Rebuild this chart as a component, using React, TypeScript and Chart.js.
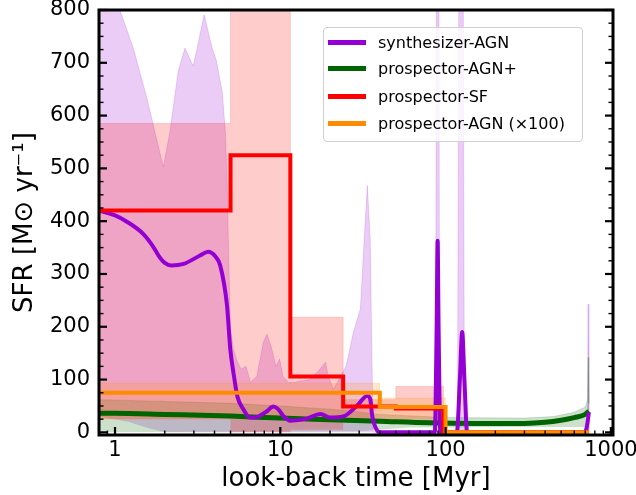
import React, { useEffect, useRef } from "react";
import { Chart, registerables } from "chart.js";

Chart.register(...registerables);

const FONT = "'DejaVu Sans', sans-serif";

// axes
const X_MIN = 0.8;
const X_MAX = 1030;
const Y_MIN = -5;
const Y_MAX = 800;
const X_TICKS = [1, 10, 100, 1000];
const Y_TICKS = [0, 100, 200, 300, 400, 500, 600, 700, 800];
const Y_MINOR_STEP = 25;
const X_TITLE = "look-back time [Myr]";
const Y_TITLE = "SFR [M\u2299 yr\u207B\u00B9]";

// series names
const SERIES_NAMES = ["synthesizer-AGN", "prospector-AGN+", "prospector-SF", "prospector-AGN (\u00D7100)"];
const COLORS = ["#9400D3", "#006400", "#FF0000", "#FF8C00"];
const BAND_COLORS = ["rgba(148,0,211,0.2)", "rgba(0,100,0,0.2)", "rgba(255,0,0,0.2)", "rgba(255,140,0,0.2)"];

// synthesizer-AGN median
const synthT = [0.8, 1.0, 1.18, 1.48, 1.7, 1.85, 2.0, 2.2, 2.6, 3.27, 3.66, 4.05, 4.33, 4.76, 4.98, 5.2, 5.5, 5.97, 6.57, 7.36, 8.3, 9.07, 9.7, 10.5, 11.5, 14.5, 17.5, 20, 24, 29, 33.6, 35, 36, 38.6, 40, 86, 88.3, 89.5, 90.7, 93, 117, 122, 126, 130, 135, 690, 715, 736];
const synthV = [420, 411, 399, 376, 352, 333, 321, 316, 319, 335, 342, 333, 316, 240, 158, 114, 68, 44, 28, 30, 40, 49, 44, 30, 22, 26, 35, 28, 30, 50, 69, 63, 31, 3, 0, 0, 200, 363, 200, 0, 0, 100, 190, 100, 0, 0, 10, 38];
// synthesizer-AGN band
const synthUpT = [0.8, 1.07, 1.29, 1.56, 1.8, 1.96, 2.15, 2.41, 2.65, 2.97, 3.14, 3.46, 3.87, 4.1, 4.45, 4.65, 4.76, 4.9, 5.0, 5.2, 5.5, 5.8, 6.2, 6.6, 7.2, 7.9, 8.3, 8.8, 9.4, 9.9, 10.4, 11.2, 12.2, 15, 17, 18.8, 19.5, 21, 25, 27.7, 30.5, 32.2, 33.6, 35, 35.8, 36.5, 87, 88.2, 90.8, 92, 118, 121, 127, 130, 700, 722, 728, 736];
const synthUpV = [950, 800, 728, 633, 551, 503, 570, 684, 728, 694, 728, 791, 728, 705, 646, 570, 481, 300, 196, 158, 133, 120, 125, 95, 106, 171, 186, 163, 125, 139, 106, 95, 95, 100, 116, 133, 106, 82, 125, 190, 234, 367, 468, 367, 150, 0, 0, 1200, 1200, 0, 0, 1200, 1200, 0, 0, 10, 243, 0];
const synthLoT = [0.8, 1.2, 1.6, 2.0, 736];
const synthLoV = [30, 20, 8, 0, 0];

// prospector-AGN+ median and band
const agnPlusT = [0.8, 1, 2, 5, 10, 20, 40, 80, 150, 300, 400, 500, 600, 700, 736];
const agnPlusV = [36, 36, 34, 31, 27, 24, 21, 18, 17, 17, 19, 23, 28, 34, 40];
const agnPlusUpT = [0.8, 5, 10, 24, 40, 100, 300, 450, 600, 700, 720, 728, 736];
const agnPlusUpV = [62, 55, 50, 42, 34, 28, 27, 30, 38, 48, 60, 142, 55];
const agnPlusLoT = [0.8, 30, 60, 700, 736];
const agnPlusLoV = [0, 2, 9, 10, 12];

// prospector-SF (bins)
const sfEdges = [0.8, 5, 11.5, 24, 50, 97, 736];
const sfV = [420, 525, 106, 49, 45, 0];
const sfUp = [585, 1000, 218, 62, 87, 0];
const sfLo = [25, 0, 5, 20, 20, 0];

// prospector-AGN x100 (bins)
const agnEdges = [0.8, 40, 100, 736];
const agnV = [75, 48, 0];
const agnUp = [93, 65, 0];
const agnLo = [25, 25, 0];

function pts(xs: number[], ys: number[]) {
  return xs.map((x, i) => ({ x, y: ys[i] }));
}
function stepPts(edges: number[], vals: number[]) {
  const p = vals.map((v, i) => ({ x: edges[i], y: v }));
  p.push({ x: edges[edges.length - 1], y: vals[vals.length - 1] });
  return p;
}

const framePlugin = {
  id: "frameTicks",
  afterDraw(chart: any) {
    const { ctx, chartArea: a } = chart;
    const xs = chart.scales.x;
    const ys = chart.scales.y;
    ctx.save();
    ctx.strokeStyle = "#000";
    ctx.lineCap = "butt";
    const seg = (x1: number, y1: number, x2: number, y2: number) => {
      ctx.beginPath();
      ctx.moveTo(x1, y1);
      ctx.lineTo(x2, y2);
      ctx.stroke();
    };
    for (let v = 0; v <= Y_MAX; v += Y_MINOR_STEP) {
      const py = ys.getPixelForValue(v);
      const major = Y_TICKS.includes(v);
      const len = major ? 8 : 4.5;
      ctx.lineWidth = major ? 2.2 : 1.4;
      seg(a.left, py, a.left + len, py);
      seg(a.right, py, a.right - len, py);
    }
    for (let e = -1; e <= 3; e++) {
      for (let m = 1; m <= 9; m++) {
        const v = m * Math.pow(10, e);
        if (v <= X_MIN || v >= X_MAX) continue;
        const px = xs.getPixelForValue(v);
        const major = m === 1;
        const len = major ? 8 : 4.5;
        ctx.lineWidth = major ? 2.2 : 1.4;
        seg(px, a.bottom, px, a.bottom - len);
      }
    }
    ctx.lineWidth = 3;
    ctx.strokeRect(a.left, a.top, a.right - a.left, a.bottom - a.top);
    ctx.restore();
  },
};

const zeroPad = (s: any) => {
  s.paddingTop = 0;
  s.paddingBottom = 0;
  s.paddingLeft = 0;
  s.paddingRight = 0;
};

export default function App() {
  const ref = useRef<HTMLCanvasElement>(null);
  useEffect(() => {
    const canvas = ref.current!;
    const datasets: any[] = [];
    const add = (d: any) => {
      datasets.push(d);
      return datasets.length - 1;
    };
    const band = (lower: any[], upper: any[], color: string, order: number, stepped: boolean) => {
      const lo = add({
        label: "",
        data: lower,
        borderWidth: 0,
        borderColor: "rgba(0,0,0,0)",
        pointRadius: 0,
        fill: false,
        stepped,
        tension: 0,
        order: order + 1,
      });
      add({
        label: "",
        data: upper,
        borderWidth: 0.8,
        borderColor: color,
        backgroundColor: color,
        pointRadius: 0,
        stepped,
        tension: 0,
        fill: { target: lo, above: color, below: color },
        order,
      });
    };
    band(pts(synthLoT, synthLoV), pts(synthUpT, synthUpV), BAND_COLORS[0], 20, false);
    band(pts(agnPlusLoT, agnPlusLoV), pts(agnPlusUpT, agnPlusUpV), BAND_COLORS[1], 17, false);
    band(stepPts(sfEdges, sfLo), stepPts(sfEdges, sfUp), BAND_COLORS[2], 14, true);
    band(stepPts(agnEdges, agnLo), stepPts(agnEdges, agnUp), BAND_COLORS[3], 11, true);

    add({
      label: SERIES_NAMES[1],
      data: pts(agnPlusT, agnPlusV),
      borderColor: COLORS[1],
      borderWidth: 5,
      pointRadius: 0,
      cubicInterpolationMode: "monotone",
      fill: false,
      order: 4,
    });
    add({
      label: SERIES_NAMES[0],
      data: pts(synthT, synthV),
      borderColor: COLORS[0],
      borderWidth: 4,
      pointRadius: 0,
      cubicInterpolationMode: "monotone",
      fill: false,
      order: 3,
    });
    add({
      label: SERIES_NAMES[2],
      data: stepPts(sfEdges, sfV),
      borderColor: COLORS[2],
      borderWidth: 4,
      pointRadius: 0,
      stepped: true,
      fill: false,
      order: 2,
    });
    add({
      label: SERIES_NAMES[3],
      data: stepPts(agnEdges, agnV),
      borderColor: COLORS[3],
      borderWidth: 4,
      pointRadius: 0,
      stepped: true,
      fill: false,
      order: 1,
    });

    const chart = new Chart(canvas, {
      type: "line",
      data: { datasets },
      options: {
        responsive: false,
        animation: false,
        devicePixelRatio: 1,
        events: [],
        layout: { padding: { left: 0, right: 23, top: 10, bottom: 0 }, autoPadding: false },
        plugins: {
          legend: { display: false },
          tooltip: { enabled: false },
          filler: { propagate: false },
        },
        scales: {
          x: {
            type: "logarithmic",
            min: X_MIN,
            max: X_MAX,
            afterBuildTicks: (s: any) => {
              s.ticks = X_TICKS.map((v) => ({ value: v }));
            },
            afterFit: (s: any) => {
              s.height = 60;
              zeroPad(s);
            },
            grid: { display: false, drawTicks: false },
            border: { display: false },
            ticks: {
              font: { family: FONT, size: 21 },
              color: "#000",
              padding: 3,
              autoSkip: false,
              maxRotation: 0,
              callback: (v: any) => String(v),
            },
            title: {
              display: true,
              text: X_TITLE,
              font: { family: FONT, size: 26 },
              color: "#000",
              padding: { top: 0, bottom: 0 },
            },
          },
          y: {
            type: "linear",
            min: Y_MIN,
            max: Y_MAX,
            afterBuildTicks: (s: any) => {
              s.ticks = Y_TICKS.map((v) => ({ value: v }));
            },
            afterFit: (s: any) => {
              s.width = 99;
              zeroPad(s);
            },
            grid: { display: false, drawTicks: false },
            border: { display: false },
            ticks: {
              font: { family: FONT, size: 21 },
              color: "#000",
              padding: 9,
              callback: (v: any) => String(v),
            },
            title: {
              display: true,
              text: Y_TITLE,
              font: { family: FONT, size: 26 },
              color: "#000",
              padding: { top: 10, bottom: 0 },
            },
          },
        },
      } as any,
      plugins: [framePlugin],
    });
    return () => chart.destroy();
  }, []);

  return (
    <div style={{ position: "fixed", left: 0, top: 0, width: 636, height: 495, background: "#fff" }}>
      <canvas ref={ref} width={636} height={495} style={{ display: "block", width: 636, height: 495 }} />
      <div
        style={{
          position: "absolute",
          left: 323,
          top: 27,
          width: 260,
          height: 115,
          boxSizing: "border-box",
          border: "1px solid #d0d0d0",
          borderRadius: 4,
          background: "rgba(255,255,255,0.8)",
          fontFamily: FONT,
          fontSize: 16,
          color: "#000",
        }}
      >
        {SERIES_NAMES.map((name, i) => (
          <div
            key={name}
            style={{
              position: "absolute",
              left: 0,
              top: [14, 40, 68, 95][i] - 10,
              height: 20,
              display: "flex",
              alignItems: "center",
              whiteSpace: "nowrap",
            }}
          >
            <div style={{ marginLeft: 4, width: 38, height: 5, background: COLORS[i] }} />
            <span style={{ marginLeft: 12 }}>{name}</span>
          </div>
        ))}
      </div>
    </div>
  );
}
